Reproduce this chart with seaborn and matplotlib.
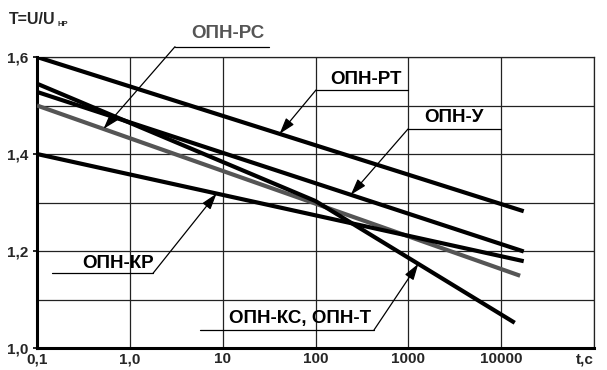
import numpy as np
import pandas as pd
import matplotlib
matplotlib.use("Agg")
import matplotlib.pyplot as plt
from matplotlib.lines import Line2D
import seaborn as sns

# ---- data ----
t_rt = [0.1, 17500];  T_rt = [1.600, 1.282]          # ОПН-РТ
t_u  = [0.1, 17500];  T_u  = [1.528, 1.199]          # ОПН-У
t_kr = [0.1, 17500];  T_kr = [1.400, 1.179]          # ОПН-КР
t_rs = [0.1, 16000];  T_rs = [1.500, 1.149]          # ОПН-РС
t_ks = [0.1, 100, 14000]; T_ks = [1.545, 1.303, 1.052]  # ОПН-КС, ОПН-Т

x_ticks = [0.1, 1, 10, 100, 1000, 10000]
x_labels = ["0,1", "1,0", "10", "100", "1000", "10000"]
y_ticks = [1.0, 1.2, 1.4, 1.6]
y_labels = ["1,0", "1,2", "1,4", "1,6"]
y_minor = [1.1, 1.3, 1.5]

series = {
    "РТ": (t_rt, T_rt),
    "У": (t_u, T_u),
    "КР": (t_kr, T_kr),
    "РС": (t_rs, T_rs),
    "КС": (t_ks, T_ks),
}
rows = []
for name, (ts, Ts) in series.items():
    for t, T in zip(ts, Ts):
        rows.append({"name": name, "t": t, "T": T})
df = pd.DataFrame(rows)

sns.set_style("white")
plt.rcParams["font.family"] = ["Liberation Sans", "DejaVu Sans"]

W, H = 607, 370
fig = plt.figure(figsize=(W / 100, H / 100), dpi=100)
L, R, Tp, B = 37, 594, 57, 348
ax = fig.add_axes([L / W, 1 - B / H, (R - L) / W, (B - Tp) / H])

palette = {"РТ": "black", "У": "black", "КР": "black", "РС": "#555555", "КС": "black"}
for name in ["РС", "КР", "У", "РТ", "КС"]:
    sub = df[df["name"] == name]
    sns.lineplot(data=sub, x="t", y="T", ax=ax, color=palette[name], lw=3.0,
                 sort=False, estimator=None, legend=False, solid_capstyle="butt", zorder=3)

ax.set_xscale("log")
ax.set_xlim(0.1, 1e5)
ax.set_ylim(1.0, 1.6)
ax.set_xlabel("")
ax.set_ylabel("")

# grid
for v in x_ticks[1:] + [1e5]:
    ax.axvline(v, color="#222222", lw=0.9, zorder=1)
for v in y_ticks[1:] + y_minor:
    ax.axhline(v, color="#222222", lw=0.9, zorder=1)

ax.set_xticks(x_ticks)
ax.set_xticklabels(x_labels, fontsize=11, fontweight="bold")
ax.xaxis.set_minor_locator(matplotlib.ticker.NullLocator())
ax.tick_params(axis="x", length=0, pad=3)
ax.set_yticks(y_ticks)
ax.set_yticklabels(y_labels, fontsize=11, fontweight="bold")
ax.tick_params(axis="y", length=3, width=1.2, pad=3, color="black", left=True)

for s in ["left", "bottom"]:
    ax.spines[s].set_linewidth(2.2)
    ax.spines[s].set_color("black")
for s in ["top", "right"]:
    ax.spines[s].set_linewidth(0.9)
    ax.spines[s].set_color("#222222")

ax.annotate("t,c", xy=(1e5, 0), xycoords=("data", "axes fraction"),
            xytext=(0, -3), textcoords="offset points", ha="right", va="top",
            fontsize=11, fontweight="bold")

# y-axis title
fig.text(9 / W, 1 - 20 / H, "T=U/U", fontsize=11.5, fontweight="bold", va="center", ha="left")
fig.text(57 / W, 1 - 24.5 / H, "НР", fontsize=5.5, fontweight="bold", va="center", ha="left")


def fp(x, y):
    return (x / W, 1 - y / H)


def on_line(ts, Ts, t):
    return float(np.interp(np.log10(t), np.log10(ts), Ts))


def label(text, tx, ty, ux0, ux1, uy, tip_t, ts, Ts, color="black", start="left"):
    fig.text(tx / W, 1 - ty / H, text, fontsize=13.5, fontweight="bold", color=color,
             ha="left", va="center")
    fig.add_artist(Line2D([ux0 / W, ux1 / W], [1 - uy / H, 1 - uy / H],
                          transform=fig.transFigure, color="black", lw=0.9))
    sx = ux0 if start == "left" else ux1
    ax.annotate("", xy=(tip_t, on_line(ts, Ts, tip_t)), xycoords="data",
                xytext=fp(sx, uy), textcoords="figure fraction",
                arrowprops=dict(arrowstyle="-|>,head_length=0.7,head_width=0.22",
                                color="black", lw=0.9, mutation_scale=14,
                                shrinkA=0, shrinkB=0), zorder=5)


label("ОПН-РС", 191, 33, 175, 269, 46.7, 0.52, t_rs, T_rs, color="#555555", start="left")
label("ОПН-РТ", 330, 79, 316, 408, 90, 41, t_rt, T_rt, start="left")
label("ОПН-У", 424, 117, 408, 501, 129, 240, t_u, T_u, start="left")
label("ОПН-КР", 82, 263, 52, 153, 273.3, 8.6, t_kr, T_kr, start="right")
label("ОПН-КС, ОПН-Т", 229, 319, 200, 374, 330, 1280, t_ks, T_ks, start="right")

fig.savefig("out.png", dpi=100)
